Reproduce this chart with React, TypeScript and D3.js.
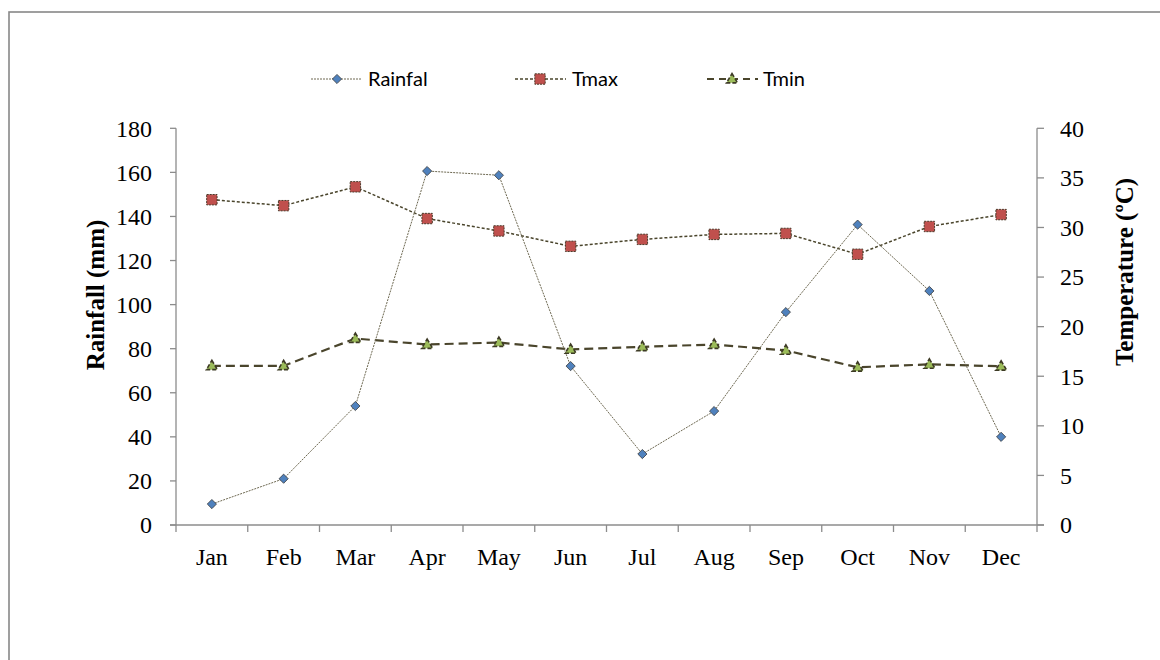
import React from "react";
import * as d3 from "d3";

const months = ["Jan", "Feb", "Mar", "Apr", "May", "Jun", "Jul", "Aug", "Sep", "Oct", "Nov", "Dec"];
const rainfall = [9.5, 21, 54, 160.6, 158.7, 72.1, 32.2, 51.7, 96.6, 136.3, 106.2, 40];
const tmax = [32.8, 32.2, 34.1, 30.9, 29.65, 28.1, 28.8, 29.3, 29.4, 27.3, 30.1, 31.3];
const tmin = [16.05, 16.05, 18.8, 18.2, 18.4, 17.7, 17.97, 18.2, 17.6, 15.9, 16.2, 16.0];
const rainTicks = [0, 20, 40, 60, 80, 100, 120, 140, 160, 180];
const tempTicks = [0, 5, 10, 15, 20, 25, 30, 35, 40];
const legendItems = ["Rainfal", "Tmax", "Tmin"];

const W = 1160;
const H = 660;
const left = 176;
const right = 1037;
const top = 128.3;
const bottom = 525;

const LINE = "#4a452c";
const AXIS = "#8c8c8c";

function Diamond({ x, y }: { x: number; y: number }) {
  const s = 4.6;
  return (
    <path
      d={`M${x},${y - s}L${x + s},${y}L${x},${y + s}L${x - s},${y}Z`}
      fill="#4f81bd"
      stroke="#3a3a3a"
      strokeWidth={0.8}
    />
  );
}

function Square({ x, y }: { x: number; y: number }) {
  const s = 5.2;
  return (
    <rect
      x={x - s}
      y={y - s}
      width={2 * s}
      height={2 * s}
      fill="#c0504d"
      stroke="#4a3a2a"
      strokeWidth={1}
      strokeDasharray="2,1"
    />
  );
}

function Triangle({ x, y }: { x: number; y: number }) {
  const s = 5.5;
  return (
    <path
      d={`M${x},${y - s}L${x + s},${y + s * 0.7}L${x - s},${y + s * 0.7}Z`}
      fill="#9bbb59"
      stroke="#3d3a25"
      strokeWidth={1.6}
      strokeDasharray="4,2"
    />
  );
}

export default function App() {
  const x = d3.scaleBand<string>().domain(months).range([left, right]);
  const yL = d3.scaleLinear().domain([0, 180]).range([bottom, top]);
  const yR = d3.scaleLinear().domain([0, 40]).range([bottom, top]);
  const cx = (m: string) => (x(m) as number) + x.bandwidth() / 2;

  const rainLine = d3.line<number>().x((_, i) => cx(months[i])).y((d) => yL(d));
  const tLine = d3.line<number>().x((_, i) => cx(months[i])).y((d) => yR(d));

  const serif = "'Liberation Serif', 'Times New Roman', serif";
  const sans = "Lato, 'Open Sans', sans-serif";

  const boundaries = months.map((m) => x(m) as number).concat([right]);

  const legendX = [311, 515, 707];
  const legendY = 79;

  return (
    <svg width={W} height={H} style={{ position: "absolute", left: 0, top: 0, background: "#fff" }}>
      <rect x={9} y={12} width={W + 20} height={H + 20} fill="#fff" stroke="#888" strokeWidth={1.6} />

      {/* axes */}
      <line x1={left} x2={left} y1={top} y2={bottom} stroke={AXIS} strokeWidth={1.3} />
      <line x1={right} x2={right} y1={top} y2={bottom} stroke={AXIS} strokeWidth={1.3} />
      <line x1={left - 6} x2={right + 7} y1={bottom} y2={bottom} stroke={AXIS} strokeWidth={1.3} />

      {rainTicks.map((t) => (
        <g key={"l" + t}>
          <line x1={left - 6} x2={left} y1={yL(t)} y2={yL(t)} stroke={AXIS} strokeWidth={1.3} />
          <text x={152} y={yL(t)} dy="0.35em" textAnchor="end" fontFamily={serif} fontSize={24} fill="#000">
            {t}
          </text>
        </g>
      ))}
      {tempTicks.map((t) => (
        <g key={"r" + t}>
          <line x1={right} x2={right + 7} y1={yR(t)} y2={yR(t)} stroke={AXIS} strokeWidth={1.3} />
          <text x={1060} y={yR(t)} dy="0.35em" textAnchor="start" fontFamily={serif} fontSize={24} fill="#000">
            {t}
          </text>
        </g>
      ))}
      {boundaries.map((b, i) => (
        <line key={"b" + i} x1={b} x2={b} y1={bottom} y2={bottom + 7} stroke={AXIS} strokeWidth={1.3} />
      ))}
      {months.map((m) => (
        <text key={m} x={cx(m)} y={565} textAnchor="middle" fontFamily={serif} fontSize={24} fill="#000">
          {m}
        </text>
      ))}

      <text
        transform={`translate(104,295) rotate(-90)`}
        textAnchor="middle"
        fontFamily={serif}
        fontWeight="bold"
        fontSize={25}
        fill="#000"
      >
        Rainfall (mm)
      </text>
      <text
        transform={`translate(1133,272) rotate(-90)`}
        textAnchor="middle"
        fontFamily={serif}
        fontWeight="bold"
        fontSize={25}
        fill="#000"
      >
        Temperature (ºC)
      </text>

      {/* lines */}
      <path d={tLine(tmin) || ""} fill="none" stroke={LINE} strokeWidth={2.2} strokeDasharray="9,5" />
      <path d={tLine(tmax) || ""} fill="none" stroke={LINE} strokeWidth={1.5} strokeDasharray="3,2" />
      <path d={rainLine(rainfall) || ""} fill="none" stroke="#6e6952" strokeWidth={1} strokeDasharray="2,1" />

      {tmin.map((v, i) => (
        <Triangle key={"tn" + i} x={cx(months[i])} y={yR(v)} />
      ))}
      {tmax.map((v, i) => (
        <Square key={"tx" + i} x={cx(months[i])} y={yR(v)} />
      ))}
      {rainfall.map((v, i) => (
        <Diamond key={"r" + i} x={cx(months[i])} y={yL(v)} />
      ))}

      {/* legend */}
      <g>
        <line x1={legendX[0]} x2={legendX[0] + 51} y1={legendY} y2={legendY} stroke="#6e6952" strokeWidth={1} strokeDasharray="2,1" />
        <Diamond x={legendX[0] + 26} y={legendY} />
        <text x={legendX[0] + 57} y={legendY} dy="0.35em" fontFamily={sans} fontSize={20} fill="#000">
          {legendItems[0]}
        </text>
        <line x1={legendX[1]} x2={legendX[1] + 51} y1={legendY} y2={legendY} stroke={LINE} strokeWidth={1.5} strokeDasharray="3,2" />
        <Square x={legendX[1] + 25} y={legendY} />
        <text x={legendX[1] + 57} y={legendY} dy="0.35em" fontFamily={sans} fontSize={20} fill="#000">
          {legendItems[1]}
        </text>
        <line x1={legendX[2]} x2={legendX[2] + 51} y1={legendY} y2={legendY} stroke={LINE} strokeWidth={2.2} strokeDasharray="7,5" />
        <Triangle x={legendX[2] + 25} y={legendY} />
        <text x={legendX[2] + 56} y={legendY} dy="0.35em" fontFamily={sans} fontSize={20} fill="#000">
          {legendItems[2]}
        </text>
      </g>
    </svg>
  );
}
